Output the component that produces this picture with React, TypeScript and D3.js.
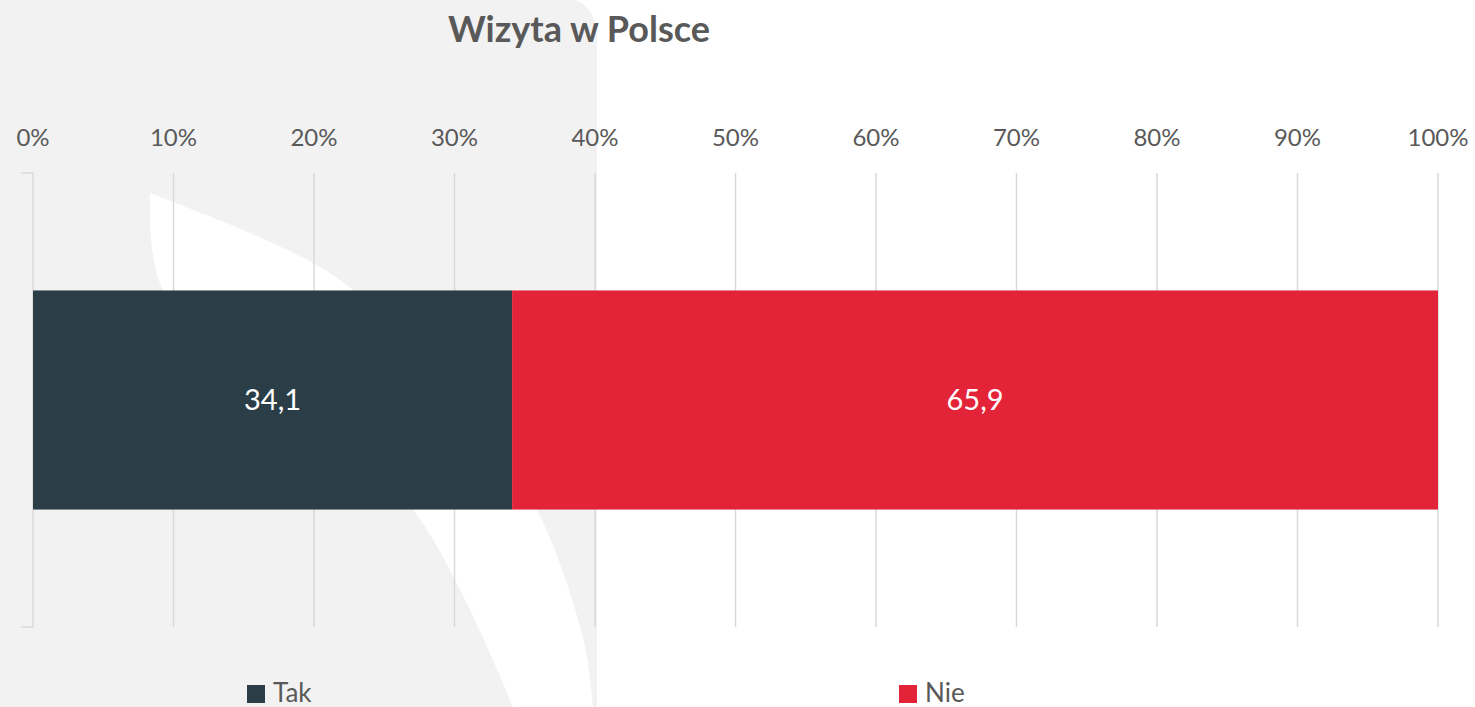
import React from "react";
import * as d3 from "d3";

const title = "Wizyta w Polsce";
const categories = ["Wizyta"];
const seriesNames = ["Tak", "Nie"];
const seriesValues = [34.1, 65.9];
const seriesColors = ["#2b3e48", "#e32337"];
const tickValues = [0, 0.1, 0.2, 0.3, 0.4, 0.5, 0.6, 0.7, 0.8, 0.9, 1.0];

const W = 1475;
const H = 707;
const FONT = "Lato, 'Open Sans', sans-serif";

export default function App() {
  const x = d3.scaleLinear().domain([0, 1]).range([33, 1438]);
  const y = d3.scaleBand().domain(categories).range([173, 627]).paddingInner(0).paddingOuter(0.536);
  const total = d3.sum(seriesValues);
  const stackData = [{ cat: categories[0], Tak: seriesValues[0] / total, Nie: seriesValues[1] / total }];
  const stacked = d3.stack<any>().keys(seriesNames)(stackData);
  const fmt = (v: number) => v.toFixed(1).replace(".", ",");
  const pct = d3.format(".0%");

  // decorative watermark (background)
  const lineGen = d3.line().curve(d3.curveCatmullRom.alpha(0.5));
  const leftEdge: [number, number][] = [[150, 193], [163, 290], [300, 420], [413, 510], [513, 707]];
  const rightEdge: [number, number][] = [[593, 707], [583, 638], [537, 510], [450, 380], [353, 290], [313, 263], [250, 233], [150, 193]];
  const petal = lineGen(leftEdge)! + "L" + lineGen(rightEdge)!.slice(1) + "Z";
  const grayShape = "M0,0 L575,0 C590,5 597,20 597,40 L597,707 L0,707 Z";

  const [y0, y1] = y.range();
  return (
    <svg width={W} height={H} style={{ position: "absolute", left: 0, top: 0, background: "#ffffff" }}>
      <rect x={0} y={0} width={W} height={H} fill="#ffffff" />
      <path d={grayShape} fill="#f2f2f2" />
      <path d={petal} fill="#ffffff" />

      <text x={579} y={42} textAnchor="middle" fontFamily={FONT} fontWeight="bold" fontSize={36} fill="#595959">
        {title}
      </text>

      {tickValues.map((t) => (
        <g key={t}>
          <text x={x(t)} y={146} textAnchor="middle" fontFamily={FONT} fontSize={24} fill="#595959">
            {pct(t)}
          </text>
          {t > 0 && <line x1={x(t)} x2={x(t)} y1={y0} y2={y1} stroke="#d9d9d9" strokeWidth={1.5} />}
        </g>
      ))}
      <line x1={x(0)} x2={x(0)} y1={y0} y2={y1} stroke="#d9d9d9" strokeWidth={1.5} />
      <line x1={x(0) - 12} x2={x(0)} y1={y0} y2={y0} stroke="#d9d9d9" strokeWidth={1.5} />
      <line x1={x(0) - 12} x2={x(0)} y1={y1} y2={y1} stroke="#d9d9d9" strokeWidth={1.5} />

      {stacked.map((s, i) => (
        <g key={s.key}>
          {s.map((d: any, j: number) => (
            <g key={j}>
              <rect
                x={x(d[0])}
                y={y(d.data.cat)!}
                width={x(d[1]) - x(d[0])}
                height={y.bandwidth()}
                fill={seriesColors[i]}
              />
              <text
                x={(x(d[0]) + x(d[1])) / 2}
                y={y(d.data.cat)! + y.bandwidth() / 2}
                dy="0.36em"
                textAnchor="middle"
                fontFamily={FONT}
                fontSize={29}
                fill="#ffffff"
              >
                {fmt(seriesValues[i])}
              </text>
            </g>
          ))}
        </g>
      ))}

      {seriesNames.map((n, i) => {
        const lx = [247, 899][i];
        return (
          <g key={n}>
            <rect x={lx} y={685} width={18} height={18} fill={seriesColors[i]} />
            <text x={lx + 26} y={702} fontFamily={FONT} fontSize={26} fill="#595959">
              {n}
            </text>
          </g>
        );
      })}
    </svg>
  );
}
